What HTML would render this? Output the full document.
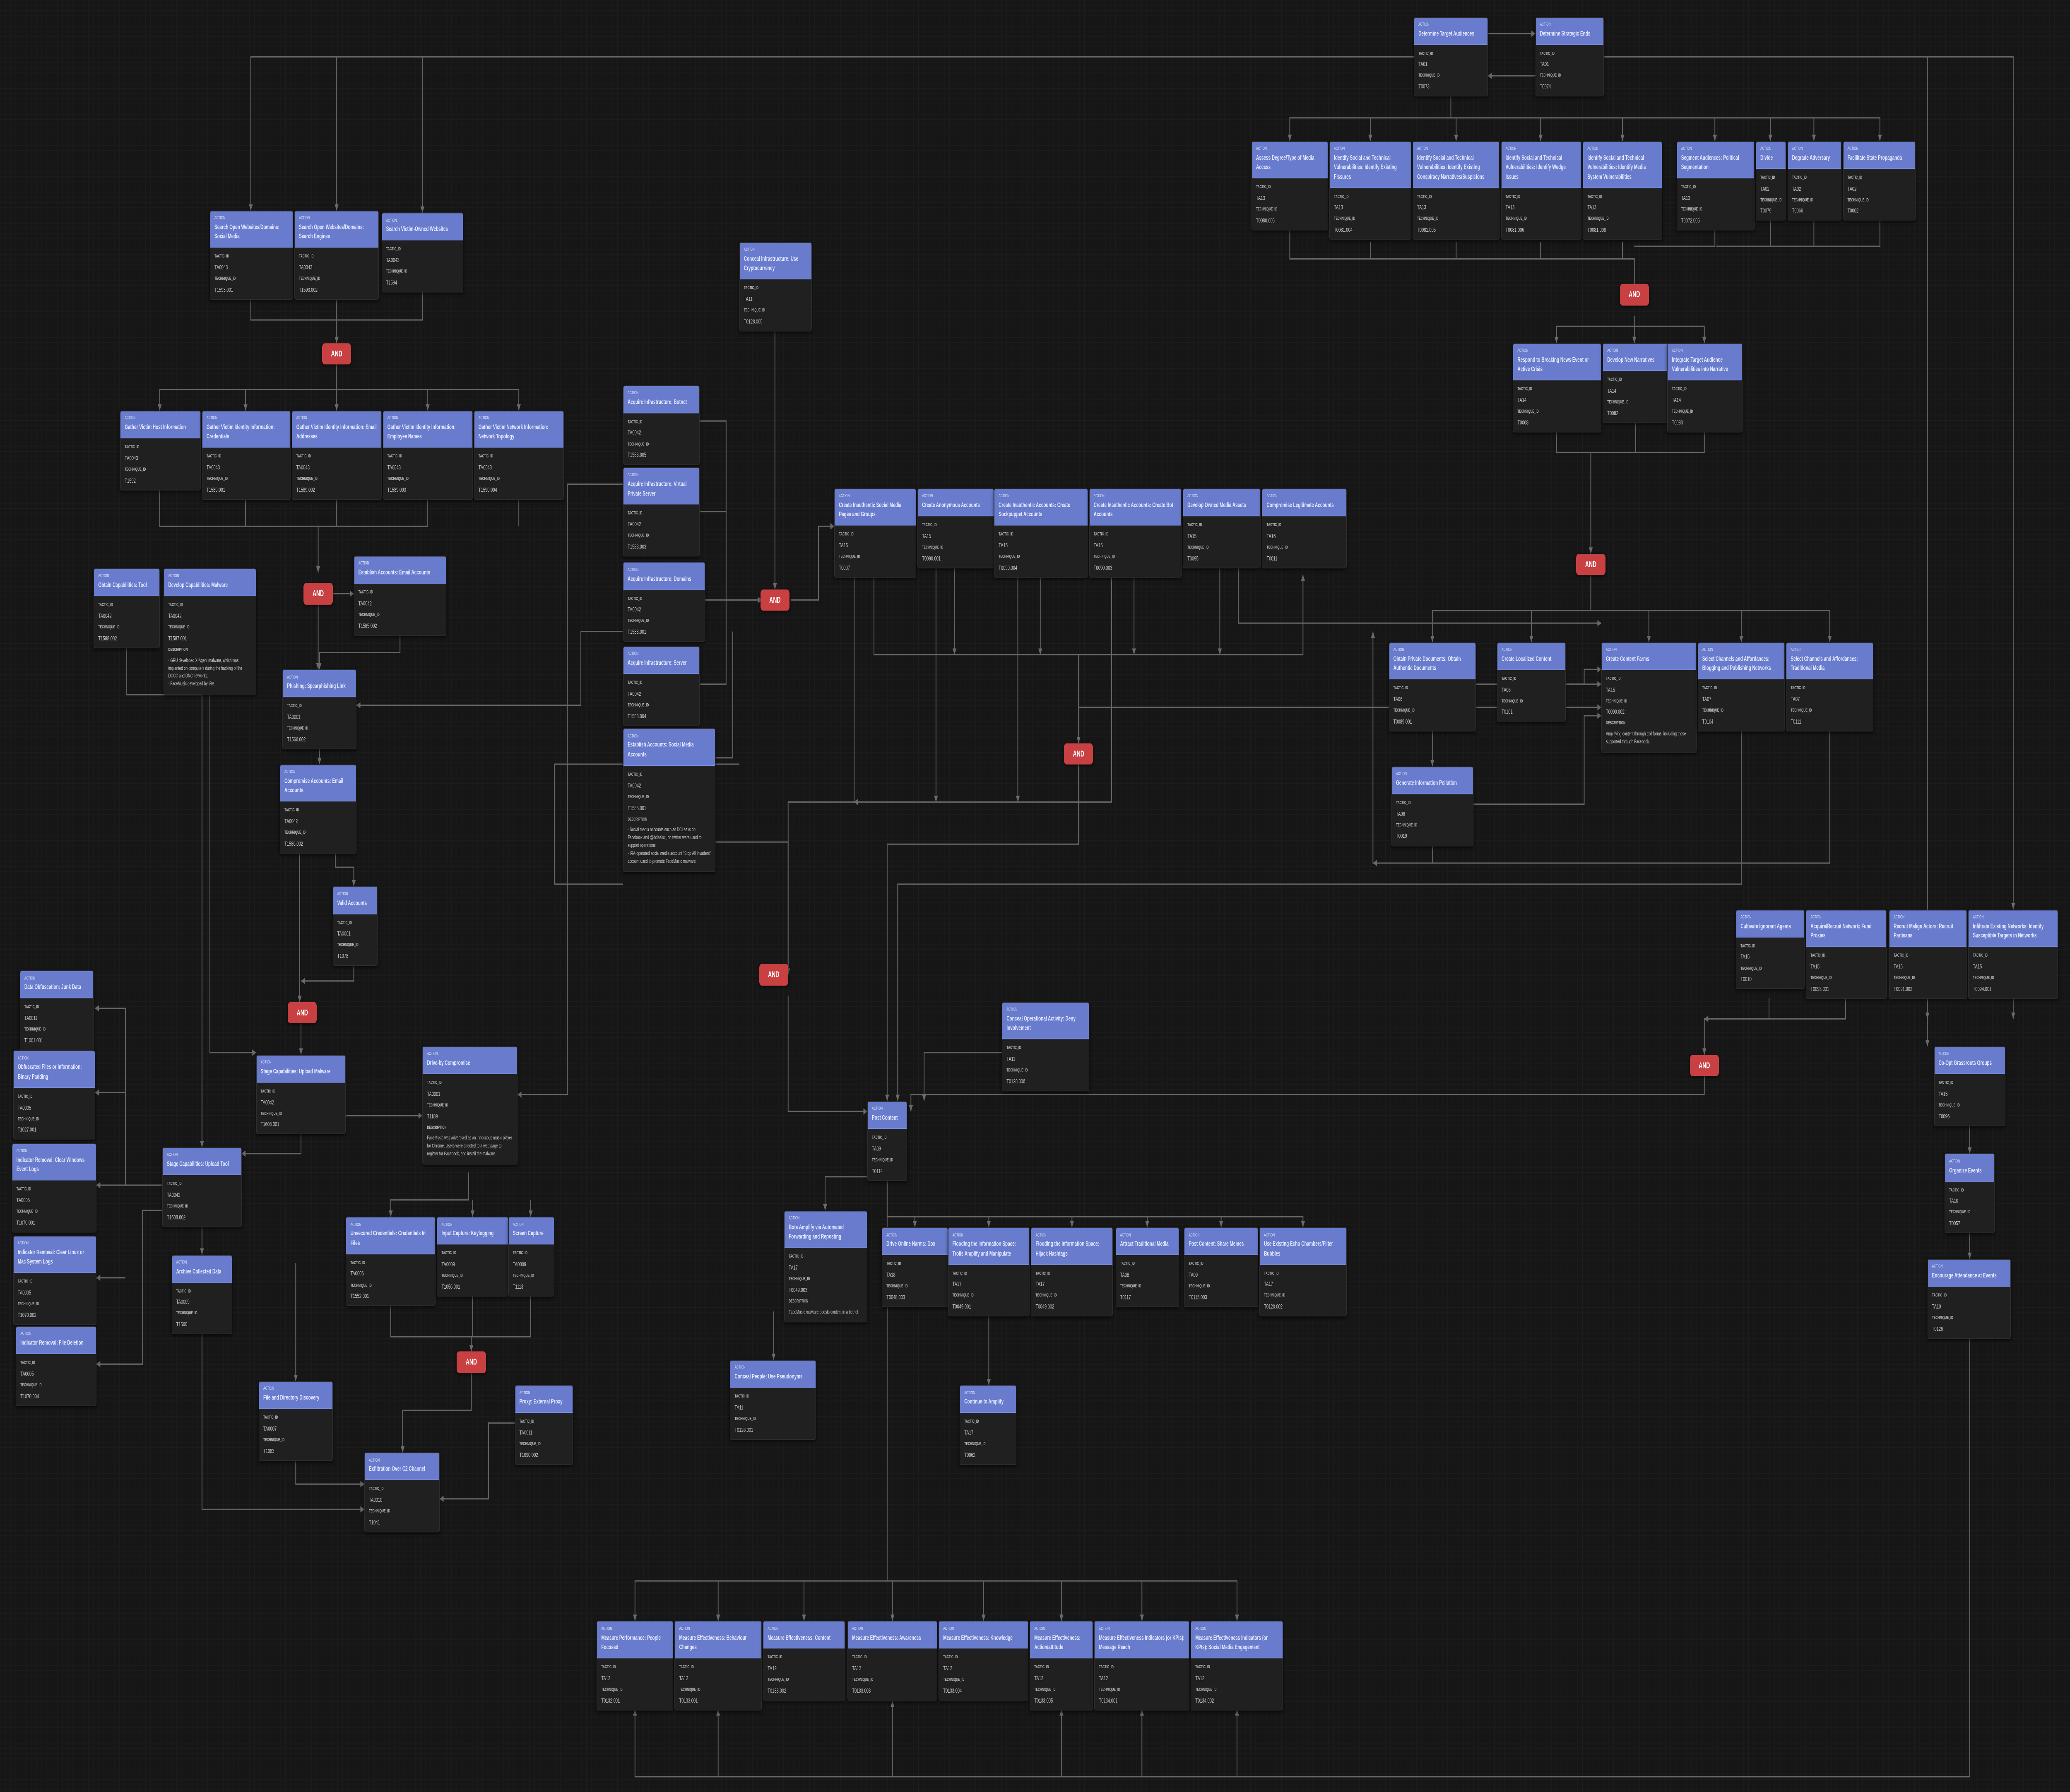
<!DOCTYPE html>
<html><head><meta charset="utf-8">
<style>
:root{--u:calc(100vw / 1568);--p:calc(100vw / 7974)}
html,body{margin:0;padding:0;overflow:hidden}
body{width:100vw;height:100vh;position:relative;overflow:hidden;background-color:#161616;
background-image:linear-gradient(#1d1d1d 1px,transparent 1px),linear-gradient(90deg,#1d1d1d 1px,transparent 1px);background-size:calc(var(--p)*20) calc(var(--p)*20);
font-family:"Liberation Sans",Arial,sans-serif}
#w{position:absolute;left:0;top:0;width:100vw;height:calc(var(--p) * 4329);transform-origin:0 0}
svg.e{position:absolute;left:0;top:0;width:100vw;height:calc(var(--p) * 4329)}
.n{position:absolute;left:calc(var(--x) * var(--u));top:calc(var(--y) * var(--u));width:calc(var(--w) * var(--u));background:#202020;border:calc(var(--p)*2) solid #2e2e2e;border-radius:calc(var(--p)*6);overflow:hidden;box-shadow:0 calc(var(--p)*4) calc(var(--p)*10) rgba(0,0,0,.6);box-sizing:border-box}
.h{background:#687bcc;padding:calc(var(--p)*12) calc(var(--p)*16);color:#e6eaff;border-bottom:calc(var(--p)*2) solid #7b8fe6}
.h i{display:block;font-style:normal;font-size:calc(var(--p)*11);line-height:calc(var(--p)*14);margin-bottom:calc(var(--p)*3);color:#e0e4fa}
.h b{display:block;font-size:calc(var(--p)*16);line-height:calc(var(--p)*23)}
.b{padding:calc(var(--p)*16) calc(var(--p)*16) calc(var(--p)*14);color:#c9c9c9}
.b s{display:block;text-decoration:none;font-size:calc(var(--p)*11);line-height:calc(var(--p)*14);margin-bottom:calc(var(--p)*8);color:#b5b5b5;font-weight:bold}
.b p{margin:0 0 calc(var(--p)*14);font-size:calc(var(--p)*15);line-height:calc(var(--p)*18)}
.b p:last-child{margin-bottom:0}
.b p.d{font-size:calc(var(--p)*13);line-height:calc(var(--p)*19)}
.a{position:absolute;left:calc(var(--x) * var(--u));top:calc(var(--y) * var(--u));width:calc(var(--p)*112);height:calc(var(--p)*52);background:#c94043;border-radius:calc(var(--p)*10);color:#fff;font-weight:bold;font-size:calc(var(--p)*20);line-height:calc(var(--p)*52);text-align:center;box-shadow:0 calc(var(--p)*3) calc(var(--p)*8) rgba(0,0,0,.6)}
</style></head><body>
<div id="w">
<svg class="e" viewBox="0 0 1568 851.26" preserveAspectRatio="none">
<defs><marker id="m" viewBox="0 0 10 10" refX="10" refY="5" markerWidth="5" markerHeight="5" orient="auto"><path d="M0 0L10 5L0 10z" fill="#6a6a6a"/></marker></defs>
<g fill="none" stroke="#666" stroke-width="0.6" marker-end="url(#m)">
<path d="M1127 16H1163"/><path d="M1163 36H1127"/>
<path d="M1071 27H190V100"/><path d="M255 27V100"/><path d="M320 27V101"/>
<path d="M1215 27H1525V432"/><path d="M1460 27V497"/>
<path d="M1099 44V56H977V67"/><path d="M1038 56V67"/><path d="M1103 56V67"/><path d="M1167 56V67"/><path d="M1229 56V67"/><path d="M1299 56V67"/><path d="M1341 56V67"/><path d="M1374 56V67"/><path d="M1099 56H1424V67"/>
<path d="M977 108V123H1238V140"/>
<path d="M1038 115V123M1103 115V123M1167 115V123M1229 115V123M1299 108V117H1238M1341 104V117M1374 104V117M1424 104V117H1300" marker-end="none"/>
<path d="M1238 150V155H1179V163"/><path d="M1238 155V163"/><path d="M1238 155H1291V163"/>
<path d="M1179 205V215H1205V263"/><path d="M1239 199V215M1291 205V215H1205" marker-end="none"/>
<path d="M1205 273V290H1085V305"/><path d="M1160 290V305"/><path d="M1205 290H1249V305"/><path d="M1249 290H1319V305"/><path d="M1319 290H1386V305"/>
<path d="M1085 347V364"/>
<path d="M1118 325H1200V318H1213"/><path d="M1186 325H1213"/><path d="M1116 382H1200V340H1213"/>
<path d="M1319 347V420H680V523"/><path d="M1386 347V410H1040V300"/>
<path d="M1340 474V484H1291V501"/><path d="M1398 470V484H1291"/><path d="M1460 470V484"/><path d="M1525 474V484"/>
<path d="M1291 511V520H690V528"/>
<path d="M1492 533V548"/><path d="M1492 584V598"/>
<path d="M587 157V280"/>
<path d="M530 200H550V285H577"/><path d="M530 243H550M534 285H577M530 325H550V285M542 360H555V300" marker-end="none"/>
<path d="M599 285H620V250H632"/>
<path d="M662 273V311H987V273"/><path d="M723 268V311"/><path d="M788 273V311"/><path d="M859 273V311"/><path d="M924 268V311"/>
<path d="M817 311V353"/><path d="M938 268V296H1213"/><path d="M817 336H1213"/>
<path d="M647 273V381H597V463"/><path d="M709 268V381"/><path d="M771 273V381"/><path d="M842 273V381H647"/>
<path d="M817 363V401H672V523"/>
<path d="M542 400H597V463"/>
<path d="M597 473V528H657"/>
<path d="M759 500H700V523"/>
<path d="M672 559V578H693V583"/><path d="M672 578H749V583"/><path d="M812 578V583"/><path d="M869 578V583"/><path d="M925 578V583"/><path d="M693 578H987V583"/>
<path d="M625 559H672M625 559V575"/>
<path d="M586 623V646"/>
<path d="M749 623V658"/>
<path d="M672 559V751H481V770"/><path d="M544 751V770"/><path d="M609 751V770"/><path d="M676 751V770"/><path d="M745 751V770"/><path d="M804 751V770"/><path d="M865 751V770"/><path d="M672 751H937V770"/>
<path d="M481 844V812"/><path d="M544 844V812"/><path d="M676 844V808"/><path d="M804 844V812"/><path d="M865 844V812"/><path d="M937 844V812"/><path d="M1492 634V844H481" marker-end="none"/>
<path d="M190 137V152H255V163"/><path d="M255 137V152H320V137" marker-end="none"/>
<path d="M255 173V185H121V195"/><path d="M186 185V195"/><path d="M255 185V195"/><path d="M255 185H324V195"/><path d="M324 185H393V195"/>
<path d="M121 231V250H241V272"/><path d="M186 235V250M255 235V250M324 235V250H241M393 235V250" marker-end="none"/>
<path d="M241 287V318"/><path d="M252 282H268"/>
<path d="M303 300V310H242V318"/>
<path d="M242 354V363"/>
<path d="M254 405V412H268V421"/>
<path d="M227 405V476"/><path d="M268 457V466H228"/>
<path d="M228 486V501"/>
<path d="M159 328V500H194"/>
<path d="M472 300H440V335H270"/><path d="M560 363H420V420H472" marker-end="none"/>
<path d="M472 230H430V520H392"/>
<path d="M262 530H320"/>
<path d="M228 537V548H183"/><path d="M153 515V545"/>
<path d="M153 581V596"/>
<path d="M123 563H95V479H72"/><path d="M95 519H72"/><path d="M95 563H73"/><path d="M95 607H73"/><path d="M123 575H108V648H73"/>
<path d="M355 557V570H296V578"/><path d="M358 570V578"/><path d="M402 570V578"/>
<path d="M296 620V635H357V642"/><path d="M358 614V635M402 614V635H357" marker-end="none"/>
<path d="M357 652V670H305V690"/>
<path d="M224 600V656"/><path d="M224 692V705H276"/>
<path d="M390 676H370V712H333"/>
<path d="M96 306V330H153V717H276"/>
<path d="M1085 400V410H1040"/>
</g>
</svg>

<div class="n" style="--x:1071;--y:8;--w:56"><div class="h"><i>ACTION</i><b>Determine Target Audiences</b></div><div class="b"><s>TACTIC_ID</s><p>TA01</p><s>TECHNIQUE_ID</s><p>T0073</p></div></div>
<div class="n" style="--x:1163;--y:8;--w:52"><div class="h"><i>ACTION</i><b>Determine Strategic Ends</b></div><div class="b"><s>TACTIC_ID</s><p>TA01</p><s>TECHNIQUE_ID</s><p>T0074</p></div></div>

<div class="n" style="--x:948;--y:67;--w:58"><div class="h"><i>ACTION</i><b>Assess Degree/Type of Media Access</b></div><div class="b"><s>TACTIC_ID</s><p>TA13</p><s>TECHNIQUE_ID</s><p>T0080.005</p></div></div>
<div class="n" style="--x:1007;--y:67;--w:62"><div class="h"><i>ACTION</i><b>Identify Social and Technical Vulnerabilities: Identify Existing Fissures</b></div><div class="b"><s>TACTIC_ID</s><p>TA13</p><s>TECHNIQUE_ID</s><p>T0081.004</p></div></div>
<div class="n" style="--x:1070;--y:67;--w:66"><div class="h"><i>ACTION</i><b>Identify Social and Technical Vulnerabilities: Identify Existing Conspiracy Narratives/Suspicions</b></div><div class="b"><s>TACTIC_ID</s><p>TA13</p><s>TECHNIQUE_ID</s><p>T0081.005</p></div></div>
<div class="n" style="--x:1137;--y:67;--w:61"><div class="h"><i>ACTION</i><b>Identify Social and Technical Vulnerabilities: Identify Wedge Issues</b></div><div class="b"><s>TACTIC_ID</s><p>TA13</p><s>TECHNIQUE_ID</s><p>T0081.006</p></div></div>
<div class="n" style="--x:1199;--y:67;--w:60"><div class="h"><i>ACTION</i><b>Identify Social and Technical Vulnerabilities: Identify Media System Vulnerabilities</b></div><div class="b"><s>TACTIC_ID</s><p>TA13</p><s>TECHNIQUE_ID</s><p>T0081.008</p></div></div>
<div class="n" style="--x:1270;--y:67;--w:59"><div class="h"><i>ACTION</i><b>Segment Audiences: Political Segmentation</b></div><div class="b"><s>TACTIC_ID</s><p>TA13</p><s>TECHNIQUE_ID</s><p>T0072.005</p></div></div>
<div class="n" style="--x:1330;--y:67;--w:23"><div class="h"><i>ACTION</i><b>Divide</b></div><div class="b"><s>TACTIC_ID</s><p>TA02</p><s>TECHNIQUE_ID</s><p>T0079</p></div></div>
<div class="n" style="--x:1354;--y:67;--w:41"><div class="h"><i>ACTION</i><b>Degrade Adversary</b></div><div class="b"><s>TACTIC_ID</s><p>TA02</p><s>TECHNIQUE_ID</s><p>T0066</p></div></div>
<div class="n" style="--x:1396;--y:67;--w:55"><div class="h"><i>ACTION</i><b>Facilitate State Propaganda</b></div><div class="b"><s>TACTIC_ID</s><p>TA02</p><s>TECHNIQUE_ID</s><p>T0002</p></div></div>

<div class="a" style="--x:1227;--y:135">AND</div>

<div class="n" style="--x:1146;--y:163;--w:67"><div class="h"><i>ACTION</i><b>Respond to Breaking News Event or Active Crisis</b></div><div class="b"><s>TACTIC_ID</s><p>TA14</p><s>TECHNIQUE_ID</s><p>T0068</p></div></div>
<div class="n" style="--x:1214;--y:163;--w:50"><div class="h"><i>ACTION</i><b>Develop New Narratives</b></div><div class="b"><s>TACTIC_ID</s><p>TA14</p><s>TECHNIQUE_ID</s><p>T0082</p></div></div>
<div class="n" style="--x:1263;--y:163;--w:57"><div class="h"><i>ACTION</i><b>Integrate Target Audience Vulnerabilities into Narrative</b></div><div class="b"><s>TACTIC_ID</s><p>TA14</p><s>TECHNIQUE_ID</s><p>T0083</p></div></div>

<div class="a" style="--x:1194;--y:263">AND</div>

<div class="n" style="--x:1052;--y:305;--w:66"><div class="h"><i>ACTION</i><b>Obtain Private Documents: Obtain Authentic Documents</b></div><div class="b"><s>TACTIC_ID</s><p>TA06</p><s>TECHNIQUE_ID</s><p>T0089.001</p></div></div>
<div class="n" style="--x:1134;--y:305;--w:52"><div class="h"><i>ACTION</i><b>Create Localized Content</b></div><div class="b"><s>TACTIC_ID</s><p>TA06</p><s>TECHNIQUE_ID</s><p>T0101</p></div></div>
<div class="n" style="--x:1213;--y:305;--w:72"><div class="h"><i>ACTION</i><b>Create Content Farms</b></div><div class="b"><s>TACTIC_ID</s><p>TA15</p><s>TECHNIQUE_ID</s><p>T0090.002</p><s>DESCRIPTION</s><p class="d">Amplifying content through troll farms, including those supported through Facebook.</p></div></div>
<div class="n" style="--x:1286;--y:305;--w:66"><div class="h"><i>ACTION</i><b>Select Channels and Affordances: Blogging and Publishing Networks</b></div><div class="b"><s>TACTIC_ID</s><p>TA07</p><s>TECHNIQUE_ID</s><p>T0104</p></div></div>
<div class="n" style="--x:1353;--y:305;--w:66"><div class="h"><i>ACTION</i><b>Select Channels and Affordances: Traditional Media</b></div><div class="b"><s>TACTIC_ID</s><p>TA07</p><s>TECHNIQUE_ID</s><p>T0111</p></div></div>
<div class="n" style="--x:1054;--y:364;--w:62"><div class="h"><i>ACTION</i><b>Generate Information Pollution</b></div><div class="b"><s>TACTIC_ID</s><p>TA06</p><s>TECHNIQUE_ID</s><p>T0019</p></div></div>

<div class="n" style="--x:1315;--y:432;--w:52"><div class="h"><i>ACTION</i><b>Cultivate Ignorant Agents</b></div><div class="b"><s>TACTIC_ID</s><p>TA15</p><s>TECHNIQUE_ID</s><p>T0010</p></div></div>
<div class="n" style="--x:1368;--y:432;--w:61"><div class="h"><i>ACTION</i><b>Acquire/Recruit Network: Fund Proxies</b></div><div class="b"><s>TACTIC_ID</s><p>TA15</p><s>TECHNIQUE_ID</s><p>T0093.001</p></div></div>
<div class="n" style="--x:1431;--y:432;--w:59"><div class="h"><i>ACTION</i><b>Recruit Malign Actors: Recruit Partisans</b></div><div class="b"><s>TACTIC_ID</s><p>TA15</p><s>TECHNIQUE_ID</s><p>T0091.002</p></div></div>
<div class="n" style="--x:1491;--y:432;--w:68"><div class="h"><i>ACTION</i><b>Infiltrate Existing Networks: Identify Susceptible Targets in Networks</b></div><div class="b"><s>TACTIC_ID</s><p>TA15</p><s>TECHNIQUE_ID</s><p>T0094.001</p></div></div>

<div class="a" style="--x:1280;--y:501">AND</div>

<div class="n" style="--x:1465;--y:497;--w:54"><div class="h"><i>ACTION</i><b>Co-Opt Grassroots Groups</b></div><div class="b"><s>TACTIC_ID</s><p>TA15</p><s>TECHNIQUE_ID</s><p>T0096</p></div></div>
<div class="n" style="--x:1473;--y:548;--w:38"><div class="h"><i>ACTION</i><b>Organize Events</b></div><div class="b"><s>TACTIC_ID</s><p>TA10</p><s>TECHNIQUE_ID</s><p>T0057</p></div></div>
<div class="n" style="--x:1460;--y:598;--w:63"><div class="h"><i>ACTION</i><b>Encourage Attendance at Events</b></div><div class="b"><s>TACTIC_ID</s><p>TA10</p><s>TECHNIQUE_ID</s><p>T0126</p></div></div>

<div class="n" style="--x:560;--y:115;--w:55"><div class="h"><i>ACTION</i><b>Conceal Infrastructure: Use Cryptocurrency</b></div><div class="b"><s>TACTIC_ID</s><p>TA11</p><s>TECHNIQUE_ID</s><p>T0128.005</p></div></div>
<div class="n" style="--x:472;--y:183;--w:58"><div class="h"><i>ACTION</i><b>Acquire Infrastructure: Botnet</b></div><div class="b"><s>TACTIC_ID</s><p>TA0042</p><s>TECHNIQUE_ID</s><p>T1583.005</p></div></div>
<div class="n" style="--x:472;--y:222;--w:58"><div class="h"><i>ACTION</i><b>Acquire Infrastructure: Virtual Private Server</b></div><div class="b"><s>TACTIC_ID</s><p>TA0042</p><s>TECHNIQUE_ID</s><p>T1583.003</p></div></div>
<div class="n" style="--x:472;--y:267;--w:62"><div class="h"><i>ACTION</i><b>Acquire Infrastructure: Domains</b></div><div class="b"><s>TACTIC_ID</s><p>TA0042</p><s>TECHNIQUE_ID</s><p>T1583.001</p></div></div>
<div class="n" style="--x:472;--y:307;--w:58"><div class="h"><i>ACTION</i><b>Acquire Infrastructure: Server</b></div><div class="b"><s>TACTIC_ID</s><p>TA0042</p><s>TECHNIQUE_ID</s><p>T1583.004</p></div></div>
<div class="n" style="--x:472;--y:346;--w:70"><div class="h"><i>ACTION</i><b>Establish Accounts: Social Media Accounts</b></div><div class="b"><s>TACTIC_ID</s><p>TA0042</p><s>TECHNIQUE_ID</s><p>T1585.001</p><s>DESCRIPTION</s><p class="d">- Social media accounts such as DCLeaks on Facebook and @dcleaks_ on twitter were used to support operations.<br>- IRA-operated social media account "Stop All Invaders" account used to promote FaceMusic malware.</p></div></div>

<div class="a" style="--x:576;--y:280">AND</div>

<div class="n" style="--x:632;--y:232;--w:62"><div class="h"><i>ACTION</i><b>Create Inauthentic Social Media Pages and Groups</b></div><div class="b"><s>TACTIC_ID</s><p>TA15</p><s>TECHNIQUE_ID</s><p>T0007</p></div></div>
<div class="n" style="--x:695;--y:232;--w:58"><div class="h"><i>ACTION</i><b>Create Anonymous Accounts</b></div><div class="b"><s>TACTIC_ID</s><p>TA15</p><s>TECHNIQUE_ID</s><p>T0090.001</p></div></div>
<div class="n" style="--x:753;--y:232;--w:71"><div class="h"><i>ACTION</i><b>Create Inauthentic Accounts: Create Sockpuppet Accounts</b></div><div class="b"><s>TACTIC_ID</s><p>TA15</p><s>TECHNIQUE_ID</s><p>T0090.004</p></div></div>
<div class="n" style="--x:825;--y:232;--w:70"><div class="h"><i>ACTION</i><b>Create Inauthentic Accounts: Create Bot Accounts</b></div><div class="b"><s>TACTIC_ID</s><p>TA15</p><s>TECHNIQUE_ID</s><p>T0090.003</p></div></div>
<div class="n" style="--x:896;--y:232;--w:59"><div class="h"><i>ACTION</i><b>Develop Owned Media Assets</b></div><div class="b"><s>TACTIC_ID</s><p>TA15</p><s>TECHNIQUE_ID</s><p>T0095</p></div></div>
<div class="n" style="--x:956;--y:232;--w:64"><div class="h"><i>ACTION</i><b>Compromise Legitimate Accounts</b></div><div class="b"><s>TACTIC_ID</s><p>TA16</p><s>TECHNIQUE_ID</s><p>T0011</p></div></div>

<div class="a" style="--x:806;--y:353">AND</div>
<div class="a" style="--x:575;--y:458">AND</div>

<div class="n" style="--x:759;--y:476;--w:66"><div class="h"><i>ACTION</i><b>Conceal Operational Activity: Deny Involvement</b></div><div class="b"><s>TACTIC_ID</s><p>TA11</p><s>TECHNIQUE_ID</s><p>T0128.006</p></div></div>
<div class="n" style="--x:657;--y:523;--w:30"><div class="h"><i>ACTION</i><b>Post Content</b></div><div class="b"><s>TACTIC_ID</s><p>TA09</p><s>TECHNIQUE_ID</s><p>T0114</p></div></div>
<div class="n" style="--x:594;--y:575;--w:63"><div class="h"><i>ACTION</i><b>Bots Amplify via Automated Forwarding and Reposting</b></div><div class="b"><s>TACTIC_ID</s><p>TA17</p><s>TECHNIQUE_ID</s><p>T0049.003</p><s>DESCRIPTION</s><p class="d">FaceMusic malware boosts content in a botnet.</p></div></div>
<div class="n" style="--x:553;--y:646;--w:65"><div class="h"><i>ACTION</i><b>Conceal People: Use Pseudonyms</b></div><div class="b"><s>TACTIC_ID</s><p>TA11</p><s>TECHNIQUE_ID</s><p>T0126.001</p></div></div>

<div class="n" style="--x:668;--y:583;--w:50"><div class="h"><i>ACTION</i><b>Drive Online Harms: Dox</b></div><div class="b"><s>TACTIC_ID</s><p>TA18</p><s>TECHNIQUE_ID</s><p>T0048.003</p></div></div>
<div class="n" style="--x:718;--y:583;--w:62"><div class="h"><i>ACTION</i><b>Flooding the Information Space: Trolls Amplify and Manipulate</b></div><div class="b"><s>TACTIC_ID</s><p>TA17</p><s>TECHNIQUE_ID</s><p>T0049.001</p></div></div>
<div class="n" style="--x:781;--y:583;--w:62"><div class="h"><i>ACTION</i><b>Flooding the Information Space: Hijack Hashtags</b></div><div class="b"><s>TACTIC_ID</s><p>TA17</p><s>TECHNIQUE_ID</s><p>T0049.002</p></div></div>
<div class="n" style="--x:845;--y:583;--w:48"><div class="h"><i>ACTION</i><b>Attract Traditional Media</b></div><div class="b"><s>TACTIC_ID</s><p>TA08</p><s>TECHNIQUE_ID</s><p>T0117</p></div></div>
<div class="n" style="--x:897;--y:583;--w:56"><div class="h"><i>ACTION</i><b>Post Content: Share Memes</b></div><div class="b"><s>TACTIC_ID</s><p>TA09</p><s>TECHNIQUE_ID</s><p>T0115.003</p></div></div>
<div class="n" style="--x:954;--y:583;--w:66"><div class="h"><i>ACTION</i><b>Use Existing Echo Chambers/Filter Bubbles</b></div><div class="b"><s>TACTIC_ID</s><p>TA17</p><s>TECHNIQUE_ID</s><p>T0120.002</p></div></div>
<div class="n" style="--x:727;--y:658;--w:43"><div class="h"><i>ACTION</i><b>Continue to Amplify</b></div><div class="b"><s>TACTIC_ID</s><p>TA17</p><s>TECHNIQUE_ID</s><p>T0062</p></div></div>

<div class="n" style="--x:452;--y:770;--w:58"><div class="h"><i>ACTION</i><b>Measure Performance: People Focused</b></div><div class="b"><s>TACTIC_ID</s><p>TA12</p><s>TECHNIQUE_ID</s><p>T0132.001</p></div></div>
<div class="n" style="--x:511;--y:770;--w:66"><div class="h"><i>ACTION</i><b>Measure Effectiveness: Behaviour Changes</b></div><div class="b"><s>TACTIC_ID</s><p>TA12</p><s>TECHNIQUE_ID</s><p>T0133.001</p></div></div>
<div class="n" style="--x:578;--y:770;--w:62"><div class="h"><i>ACTION</i><b>Measure Effectiveness: Content</b></div><div class="b"><s>TACTIC_ID</s><p>TA12</p><s>TECHNIQUE_ID</s><p>T0133.002</p></div></div>
<div class="n" style="--x:642;--y:770;--w:68"><div class="h"><i>ACTION</i><b>Measure Effectiveness: Awareness</b></div><div class="b"><s>TACTIC_ID</s><p>TA12</p><s>TECHNIQUE_ID</s><p>T0133.003</p></div></div>
<div class="n" style="--x:711;--y:770;--w:68"><div class="h"><i>ACTION</i><b>Measure Effectiveness: Knowledge</b></div><div class="b"><s>TACTIC_ID</s><p>TA12</p><s>TECHNIQUE_ID</s><p>T0133.004</p></div></div>
<div class="n" style="--x:780;--y:770;--w:48"><div class="h"><i>ACTION</i><b>Measure Effectiveness: Action/attitude</b></div><div class="b"><s>TACTIC_ID</s><p>TA12</p><s>TECHNIQUE_ID</s><p>T0133.005</p></div></div>
<div class="n" style="--x:829;--y:770;--w:72"><div class="h"><i>ACTION</i><b>Measure Effectiveness Indicators (or KPIs): Message Reach</b></div><div class="b"><s>TACTIC_ID</s><p>TA12</p><s>TECHNIQUE_ID</s><p>T0134.001</p></div></div>
<div class="n" style="--x:902;--y:770;--w:70"><div class="h"><i>ACTION</i><b>Measure Effectiveness Indicators (or KPIs): Social Media Engagement</b></div><div class="b"><s>TACTIC_ID</s><p>TA12</p><s>TECHNIQUE_ID</s><p>T0134.002</p></div></div>

<div class="n" style="--x:159;--y:100;--w:63"><div class="h"><i>ACTION</i><b>Search Open Websites/Domains: Social Media</b></div><div class="b"><s>TACTIC_ID</s><p>TA0043</p><s>TECHNIQUE_ID</s><p>T1593.001</p></div></div>
<div class="n" style="--x:223;--y:100;--w:64"><div class="h"><i>ACTION</i><b>Search Open Websites/Domains: Search Engines</b></div><div class="b"><s>TACTIC_ID</s><p>TA0043</p><s>TECHNIQUE_ID</s><p>T1593.002</p></div></div>
<div class="n" style="--x:289;--y:101;--w:62"><div class="h"><i>ACTION</i><b>Search Victim-Owned Websites</b></div><div class="b"><s>TACTIC_ID</s><p>TA0043</p><s>TECHNIQUE_ID</s><p>T1594</p></div></div>

<div class="a" style="--x:244;--y:163">AND</div>

<div class="n" style="--x:91;--y:195;--w:61"><div class="h"><i>ACTION</i><b>Gather Victim Host Information</b></div><div class="b"><s>TACTIC_ID</s><p>TA0043</p><s>TECHNIQUE_ID</s><p>T1592</p></div></div>
<div class="n" style="--x:153;--y:195;--w:67"><div class="h"><i>ACTION</i><b>Gather Victim Identity Information: Credentials</b></div><div class="b"><s>TACTIC_ID</s><p>TA0043</p><s>TECHNIQUE_ID</s><p>T1589.001</p></div></div>
<div class="n" style="--x:221;--y:195;--w:68"><div class="h"><i>ACTION</i><b>Gather Victim Identity Information: Email Addresses</b></div><div class="b"><s>TACTIC_ID</s><p>TA0043</p><s>TECHNIQUE_ID</s><p>T1589.002</p></div></div>
<div class="n" style="--x:290;--y:195;--w:68"><div class="h"><i>ACTION</i><b>Gather Victim Identity Information: Employee Names</b></div><div class="b"><s>TACTIC_ID</s><p>TA0043</p><s>TECHNIQUE_ID</s><p>T1589.003</p></div></div>
<div class="n" style="--x:359;--y:195;--w:68"><div class="h"><i>ACTION</i><b>Gather Victim Network Information: Network Topology</b></div><div class="b"><s>TACTIC_ID</s><p>TA0043</p><s>TECHNIQUE_ID</s><p>T1590.004</p></div></div>

<div class="n" style="--x:71;--y:270;--w:50"><div class="h"><i>ACTION</i><b>Obtain Capabilities: Tool</b></div><div class="b"><s>TACTIC_ID</s><p>TA0042</p><s>TECHNIQUE_ID</s><p>T1588.002</p></div></div>
<div class="n" style="--x:124;--y:270;--w:70"><div class="h"><i>ACTION</i><b>Develop Capabilities: Malware</b></div><div class="b"><s>TACTIC_ID</s><p>TA0042</p><s>TECHNIQUE_ID</s><p>T1587.001</p><s>DESCRIPTION</s><p class="d">- GRU developed X-Agent malware, which was implanted on computers during the hacking of the DCCC and DNC networks.<br>- FaceMusic developed by IRA.</p></div></div>
<div class="n" style="--x:268;--y:264;--w:70"><div class="h"><i>ACTION</i><b>Establish Accounts: Email Accounts</b></div><div class="b"><s>TACTIC_ID</s><p>TA0042</p><s>TECHNIQUE_ID</s><p>T1585.002</p></div></div>

<div class="a" style="--x:230;--y:277">AND</div>

<div class="n" style="--x:214;--y:318;--w:56"><div class="h"><i>ACTION</i><b>Phishing: Spearphishing Link</b></div><div class="b"><s>TACTIC_ID</s><p>TA0001</p><s>TECHNIQUE_ID</s><p>T1566.002</p></div></div>
<div class="n" style="--x:212;--y:363;--w:58"><div class="h"><i>ACTION</i><b>Compromise Accounts: Email Accounts</b></div><div class="b"><s>TACTIC_ID</s><p>TA0042</p><s>TECHNIQUE_ID</s><p>T1586.002</p></div></div>
<div class="n" style="--x:252;--y:421;--w:34"><div class="h"><i>ACTION</i><b>Valid Accounts</b></div><div class="b"><s>TACTIC_ID</s><p>TA0001</p><s>TECHNIQUE_ID</s><p>T1078</p></div></div>

<div class="a" style="--x:218;--y:476">AND</div>

<div class="n" style="--x:194;--y:501;--w:68"><div class="h"><i>ACTION</i><b>Stage Capabilities: Upload Malware</b></div><div class="b"><s>TACTIC_ID</s><p>TA0042</p><s>TECHNIQUE_ID</s><p>T1608.001</p></div></div>
<div class="n" style="--x:320;--y:497;--w:72"><div class="h"><i>ACTION</i><b>Drive-by Compromise</b></div><div class="b"><s>TACTIC_ID</s><p>TA0001</p><s>TECHNIQUE_ID</s><p>T1189</p><s>DESCRIPTION</s><p class="d">FaceMusic was advertised as an innocuous music player for Chrome. Users were directed to a web page to register for Facebook, and install the malware.</p></div></div>
<div class="n" style="--x:123;--y:545;--w:60"><div class="h"><i>ACTION</i><b>Stage Capabilities: Upload Tool</b></div><div class="b"><s>TACTIC_ID</s><p>TA0042</p><s>TECHNIQUE_ID</s><p>T1608.002</p></div></div>
<div class="n" style="--x:130;--y:596;--w:46"><div class="h"><i>ACTION</i><b>Archive Collected Data</b></div><div class="b"><s>TACTIC_ID</s><p>TA0009</p><s>TECHNIQUE_ID</s><p>T1560</p></div></div>
<div class="n" style="--x:262;--y:578;--w:68"><div class="h"><i>ACTION</i><b>Unsecured Credentials: Credentials In Files</b></div><div class="b"><s>TACTIC_ID</s><p>TA0006</p><s>TECHNIQUE_ID</s><p>T1552.001</p></div></div>
<div class="n" style="--x:331;--y:578;--w:54"><div class="h"><i>ACTION</i><b>Input Capture: Keylogging</b></div><div class="b"><s>TACTIC_ID</s><p>TA0009</p><s>TECHNIQUE_ID</s><p>T1056.001</p></div></div>
<div class="n" style="--x:385;--y:578;--w:35"><div class="h"><i>ACTION</i><b>Screen Capture</b></div><div class="b"><s>TACTIC_ID</s><p>TA0009</p><s>TECHNIQUE_ID</s><p>T1113</p></div></div>

<div class="a" style="--x:346;--y:642">AND</div>

<div class="n" style="--x:196;--y:656;--w:56"><div class="h"><i>ACTION</i><b>File and Directory Discovery</b></div><div class="b"><s>TACTIC_ID</s><p>TA0007</p><s>TECHNIQUE_ID</s><p>T1083</p></div></div>
<div class="n" style="--x:390;--y:658;--w:44"><div class="h"><i>ACTION</i><b>Proxy: External Proxy</b></div><div class="b"><s>TACTIC_ID</s><p>TA0011</p><s>TECHNIQUE_ID</s><p>T1090.002</p></div></div>
<div class="n" style="--x:276;--y:690;--w:57"><div class="h"><i>ACTION</i><b>Exfiltration Over C2 Channel</b></div><div class="b"><s>TACTIC_ID</s><p>TA0010</p><s>TECHNIQUE_ID</s><p>T1041</p></div></div>

<div class="n" style="--x:15;--y:461;--w:56"><div class="h"><i>ACTION</i><b>Data Obfuscation: Junk Data</b></div><div class="b"><s>TACTIC_ID</s><p>TA0011</p><s>TECHNIQUE_ID</s><p>T1001.001</p></div></div>
<div class="n" style="--x:10;--y:499;--w:62"><div class="h"><i>ACTION</i><b>Obfuscated Files or Information: Binary Padding</b></div><div class="b"><s>TACTIC_ID</s><p>TA0005</p><s>TECHNIQUE_ID</s><p>T1027.001</p></div></div>
<div class="n" style="--x:9;--y:543;--w:64"><div class="h"><i>ACTION</i><b>Indicator Removal: Clear Windows Event Logs</b></div><div class="b"><s>TACTIC_ID</s><p>TA0005</p><s>TECHNIQUE_ID</s><p>T1070.001</p></div></div>
<div class="n" style="--x:10;--y:587;--w:63"><div class="h"><i>ACTION</i><b>Indicator Removal: Clear Linux or Mac System Logs</b></div><div class="b"><s>TACTIC_ID</s><p>TA0005</p><s>TECHNIQUE_ID</s><p>T1070.002</p></div></div>
<div class="n" style="--x:12;--y:630;--w:61"><div class="h"><i>ACTION</i><b>Indicator Removal: File Deletion</b></div><div class="b"><s>TACTIC_ID</s><p>TA0005</p><s>TECHNIQUE_ID</s><p>T1070.004</p></div></div>
</div>
<script>
(function(){
  var w=document.getElementById('w');
  var cw=window.innerWidth, ch=window.innerHeight;
  var s=ch/(cw*4329/7974);
  if(s>0.5&&s<3&&Math.abs(s-1)>0.01){w.style.transform='scaleY('+s+')';}
})();
</script>
</body></html>
